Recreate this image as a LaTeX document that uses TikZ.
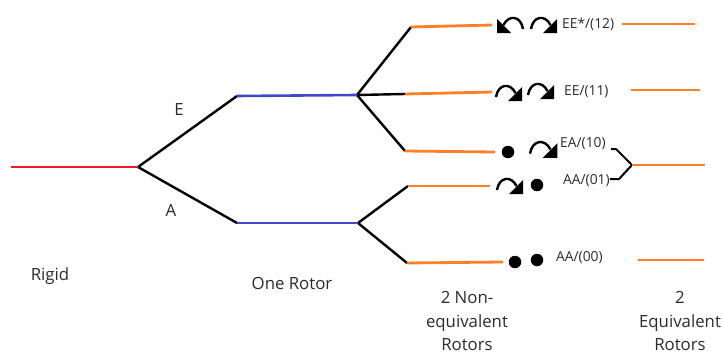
\documentclass[tikz,border=0pt]{standalone}
\usepackage{fontspec}
\setmainfont{Open Sans}
\definecolor{rigidred}{HTML}{ED1C24}
\definecolor{rotorblue}{HTML}{3F48CC}
\definecolor{levelorange}{HTML}{FF7F27}
\definecolor{inkgray}{HTML}{2B2B2B}
\tikzset{
  branch/.style={line width=2.4pt, black},
  rigidlevel/.style={line width=2.6pt, rigidred},
  onelevel/.style={line width=2.6pt, rotorblue},
  twolevel/.style={line width=2.8pt, levelorange},
  biglabel/.style={font=\fontsize{16.8}{23.5}\selectfont, text=inkgray, inner sep=0pt, align=center},
  smalllabel/.style={font=\fontsize{13.8}{16}\selectfont, text=inkgray, inner sep=0pt, anchor=west},
  dot/.style={circle, fill=black, minimum size=12.5pt, inner sep=0pt},
  cwarrow/.pic={
    \draw[line width=2.4pt] (0,14) .. controls (2,1) and (14,-1) .. (19.5,10);
    \fill (26,18) -- (26,4) -- (12,18) -- cycle;
  }
}
\begin{document}
\begin{tikzpicture}[x=1pt,y=-1pt]
\useasboundingbox (0,0) rectangle (723,356);

% rigid level
\coordinate (r0) at (11,167);
\coordinate (r1) at (138,167);
% one-rotor levels
\coordinate (e0) at (237,96);
\coordinate (e1) at (357,95);
\coordinate (a0) at (237,223);
\coordinate (a1) at (358,223);
% two non-equivalent rotor levels
\coordinate (s12a) at (411,27);  \coordinate (s12b) at (492,25);
\coordinate (s11a) at (405,94);  \coordinate (s11b) at (492,92);
\coordinate (s10a) at (405,151); \coordinate (s10b) at (495,152);
\coordinate (s01a) at (408,186); \coordinate (s01b) at (490,186);
\coordinate (s00a) at (407,263); \coordinate (s00b) at (503,262);
% two equivalent rotor levels
\coordinate (q12a) at (622,24);  \coordinate (q12b) at (695,24);
\coordinate (q11a) at (631,90);  \coordinate (q11b) at (700,90);
\coordinate (qmv)  at (632,165); \coordinate (qmb)  at (705,165);
\coordinate (q00a) at (638,260); \coordinate (q00b) at (704,260);
% bracket joining (10) and (01)
\coordinate (bt0) at (611,149); \coordinate (bt1) at (616,149);
\coordinate (bb0) at (610,179); \coordinate (bb1) at (619,179);

% correlation lines
\draw[branch] (r1) -- (e0);
\draw[branch] (r1) -- (a0);
\draw[branch] (e1) -- (s12a);
\draw[branch] (e1) -- (s11a);
\draw[branch] (e1) -- (s10a);
\draw[branch] (a1) -- (s01a);
\draw[branch] (a1) -- (s00a);
\draw[line width=2pt, black] (bt0) -- (bt1) -- (qmv) -- (bb1) -- (bb0);

% energy levels
\draw[rigidlevel] (r0) -- (r1);
\draw[onelevel] (e0) -- (e1);
\draw[onelevel] (a0) -- (a1);
\draw[twolevel] (s12a) -- (s12b);
\draw[twolevel] (s11a) -- (s11b);
\draw[twolevel] (s10a) -- (s10b);
\draw[twolevel] (s01a) -- (s01b);
\draw[twolevel] (s00a) -- (s00b);
\draw[twolevel] (q12a) -- (q12b);
\draw[twolevel] (q11a) -- (q11b);
\draw[twolevel] (qmv) -- (qmb);
\draw[twolevel] (q00a) -- (q00b);

% symmetry labels
\node[biglabel] (lE) at (179,110) {E};
\node[biglabel] (lA) at (171,210) {A};

% rotor states: arrows and dots
\pic[xscale=-1] at (523,15) {cwarrow};
\pic at (531,15) {cwarrow};
\pic at (496,83) {cwarrow};
\pic at (528,81) {cwarrow};
\node[dot] (d10) at (508,152) {};
\pic[scale=1.05] at (530,139) {cwarrow};
\pic at (497,176) {cwarrow};
\node[dot] (d01) at (537,185) {};
\node[dot] (d00a) at (515,262) {};
\node[dot] (d00b) at (537,260) {};

% state labels
\node[smalllabel] (t12) at (562,24) {EE*/(12)};
\node[smalllabel] (t11) at (564,92) {EE/(11)};
\node[smalllabel] (t10) at (560,144) {EA/(10)};
\node[smalllabel] (t01) at (563,181) {AA/(01)};
\node[smalllabel] (t00) at (556,258) {AA/(00)};

% column captions
\node[biglabel] (cRigid) at (50,276) {Rigid};
\node[biglabel] (cOne) at (292,283) {One Rotor};
\node[biglabel] (cNon) at (467,321) {2 Non-\\equivalent\\Rotors};
\node[biglabel] (cEqu) at (680,321) {2\\Equivalent\\Rotors};
\end{tikzpicture}
\end{document}
